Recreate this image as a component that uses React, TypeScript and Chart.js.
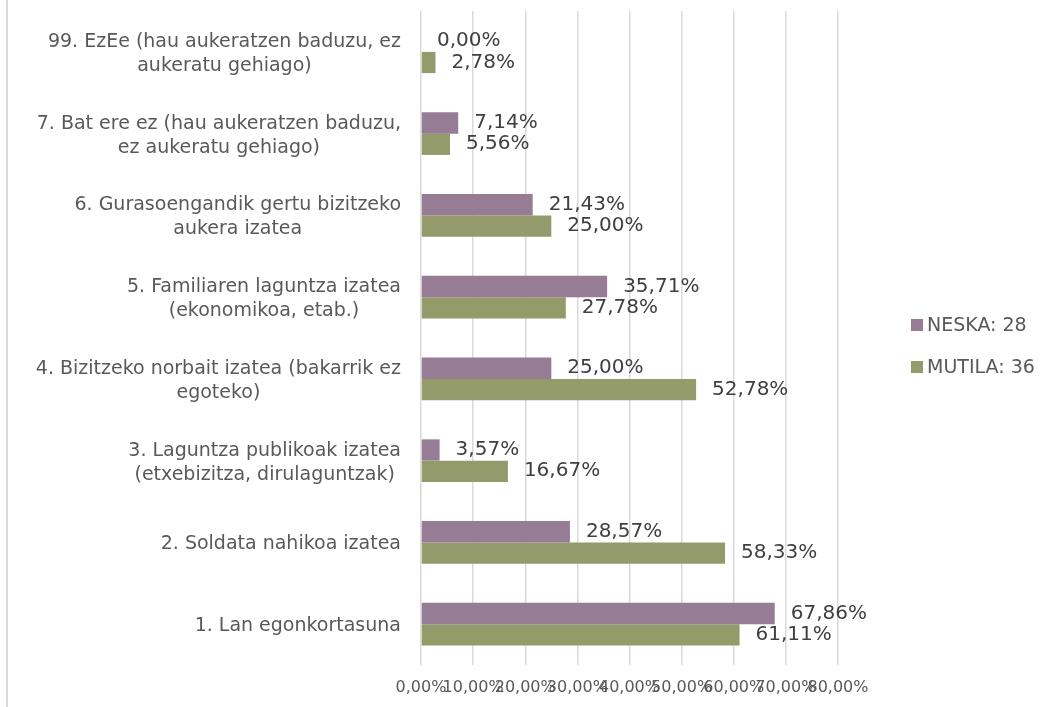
import React, { useEffect, useRef } from "react";
import { Chart, registerables } from "chart.js";

Chart.register(...registerables);

const categories: string[][] = [
  ["99. EzEe (hau aukeratzen baduzu, ez", "aukeratu gehiago)"],
  ["7. Bat ere ez (hau aukeratzen baduzu,", "ez aukeratu gehiago)"],
  ["6. Gurasoengandik gertu bizitzeko", "aukera izatea"],
  ["5. Familiaren laguntza izatea", "(ekonomikoa, etab.)"],
  ["4. Bizitzeko norbait izatea (bakarrik ez", "egoteko)"],
  ["3. Laguntza publikoak izatea", "(etxebizitza, dirulaguntzak)"],
  ["2. Soldata nahikoa izatea"],
  ["1. Lan egonkortasuna"],
];

const neskaLabel = "NESKA: 28";
const mutilaLabel = "MUTILA: 36";
const neskaValues = [0.0, 7.14, 21.43, 35.71, 25.0, 3.57, 28.57, 67.86];
const mutilaValues = [2.78, 5.56, 25.0, 27.78, 52.78, 16.67, 58.33, 61.11];

const xMin = 0;
const xMax = 80;
const xStep = 10;

const FONT = "'DejaVu Sans', sans-serif";
const TEXT = "#595959";
const PURPLE = "#967c94";
const GREEN = "#949b6b";

const fmt = (v: number) => v.toFixed(2).replace(".", ",") + "%";

const yLabelPlugin = {
  id: "yLabels",
  afterDraw(chart: any) {
    const ctx = chart.ctx;
    const ys = chart.scales.y;
    const right = chart.chartArea.left - 20;
    ctx.save();
    ctx.font = `19px ${FONT}`;
    ctx.fillStyle = TEXT;
    ctx.textAlign = "center";
    ctx.textBaseline = "middle";
    const lh = 24;
    categories.forEach((lines, i) => {
      const y = ys.getPixelForTick(i);
      const maxW = Math.max(...lines.map((l) => ctx.measureText(l).width));
      const cx = right - maxW / 2;
      lines.forEach((l, j) => {
        ctx.fillText(l, cx, y + 2 + (j - (lines.length - 1) / 2) * lh);
      });
    });
    ctx.restore();
  },
};

const dataLabelPlugin = {
  id: "dataLabels",
  afterDatasetsDraw(chart: any) {
    const ctx = chart.ctx;
    ctx.save();
    ctx.font = `20px ${FONT}`;
    ctx.fillStyle = "#404040";
    ctx.textAlign = "left";
    ctx.textBaseline = "middle";
    chart.data.datasets.forEach((ds: any, di: number) => {
      const meta = chart.getDatasetMeta(di);
      meta.data.forEach((el: any, i: number) => {
        ctx.fillText(fmt(ds.data[i]), el.x + 16, el.y);
      });
    });
    ctx.restore();
  },
};

const legendPlugin = {
  id: "customLegend",
  afterDraw(chart: any) {
    const ctx = chart.ctx;
    ctx.save();
    ctx.font = `19px ${FONT}`;
    ctx.textAlign = "left";
    ctx.textBaseline = "middle";
    const x = 911;
    const ys = [325, 367];
    chart.data.datasets.forEach((ds: any, i: number) => {
      ctx.fillStyle = ds.backgroundColor;
      ctx.fillRect(x, ys[i] - 6, 12, 12);
      ctx.fillStyle = TEXT;
      ctx.fillText(ds.label, x + 16, ys[i] + 1);
    });
    ctx.restore();
  },
};

export default function App() {
  const ref = useRef<HTMLCanvasElement>(null);
  useEffect(() => {
    if (!ref.current) return;
    const chart = new Chart(ref.current, {
      type: "bar",
      data: {
        labels: categories.map((c) => c.join(" ")),
        datasets: [
          { label: neskaLabel, data: neskaValues, backgroundColor: PURPLE, categoryPercentage: 0.52, barPercentage: 1 },
          { label: mutilaLabel, data: mutilaValues, backgroundColor: GREEN, categoryPercentage: 0.52, barPercentage: 1 },
        ],
      },
      options: {
        indexAxis: "y",
        responsive: false,
        animation: false,
        devicePixelRatio: 1,
        layout: { padding: { left: 0, top: 11, right: 217, bottom: 0 } },
        plugins: { legend: { display: false }, tooltip: { enabled: false } },
        scales: {
          x: {
            min: xMin,
            max: xMax,
            grid: { color: "#d9d9d9", lineWidth: 1.5, drawTicks: false },
            border: { display: false },
            ticks: {
              stepSize: xStep,
              padding: 13,
              color: TEXT,
              font: { family: FONT, size: 16 },
              callback: (v: any) => fmt(Number(v)),
              maxRotation: 0,
              autoSkip: false,
            },
            afterFit: (s: any) => { s.height = 42; },
          },
          y: {
            grid: { display: false },
            border: { display: false },
            ticks: { display: false },
            afterFit: (s: any) => { s.width = 421; },
          },
        },
      },
      plugins: [yLabelPlugin, dataLabelPlugin, legendPlugin],
    });
    return () => chart.destroy();
  }, []);
  return (
    <div style={{ position: "absolute", left: 0, top: 0, width: 1055, height: 707, background: "#fff" }}>
      <div style={{ position: "absolute", left: 6, top: 0, width: 2, height: 707, background: "#d9d9d9" }} />
      <canvas ref={ref} width={1055} height={707} style={{ position: "absolute", left: 0, top: 0 }} />
    </div>
  );
}
